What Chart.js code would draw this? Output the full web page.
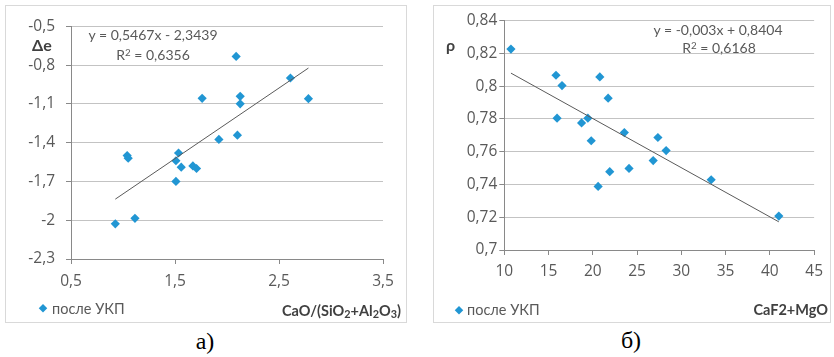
<!DOCTYPE html>
<html>
<head>
<meta charset="utf-8">
<script src="https://cdn.jsdelivr.net/npm/chart.js@4"></script>
<style>
  html, body { margin:0; padding:0; background:#fff; }
  body { width:834px; height:357px; position:relative; overflow:hidden; font-family: Lato, "Open Sans", sans-serif; }
  .panel { position:absolute; box-sizing:border-box; border:1px solid #d9d9d9; background:#fff; }
  .panel canvas { position:absolute; left:0; top:0; }
  .t { position:absolute; white-space:nowrap; color:#595959; line-height:1; }
  .eq { font-size:14px; transform:translate(-50%,-50%); }
  .ylab { font-weight:bold; font-size:16px; color:#404040; transform:translateY(-50%); }
  .xtitle { font-weight:bold; font-size:14.5px; color:#404040; transform:translate(-100%,-50%); }
  .leg { font-size:14.5px; transform:translateY(-50%); }
  .dia { position:absolute; width:5.5px; height:5.5px; background:#2196d3; transform:translate(-50%,-50%) rotate(45deg); }
  .cap { position:absolute; font-family:"Liberation Serif", "Times New Roman", serif; font-size:24px; color:#000; transform:translate(-50%,-50%); line-height:1; }
  sub { font-size:0.75em; vertical-align:-0.25em; line-height:0; }
  sup { font-size:0.7em; vertical-align:0.45em; line-height:0; }
</style>
</head>
<body>
<div class="panel" id="pA" style="left:5px;top:5px;width:402px;height:318px;"><canvas id="cA"></canvas></div>
<div class="panel" id="pB" style="left:433px;top:5px;width:398px;height:318px;"><canvas id="cB"></canvas></div>

<div class="t ylab" style="left:32px;top:45px;">Δe</div>
<div class="t eq" style="left:153px;top:35px;">y = 0,5467x - 2,3439</div>
<div class="t eq" style="left:153px;top:55px;">R<sup>2</sup> = 0,6356</div>
<div class="dia" style="left:43px;top:308px;"></div>
<div class="t leg" style="left:52px;top:309px;">после УКП</div>
<div class="t xtitle" style="left:401px;top:311px;">CaO/(SiO<sub>2</sub>+Al<sub>2</sub>O<sub>3</sub>)</div>
<div class="cap" style="left:205px;top:341px;">а)</div>

<div class="t ylab" style="left:446px;top:45px;">ρ</div>
<div class="t eq" style="left:718px;top:30px;">y = -0,003x + 0,8404</div>
<div class="t eq" style="left:719px;top:48px;">R<sup>2</sup> = 0,6168</div>
<div class="dia" style="left:459px;top:310px;"></div>
<div class="t leg" style="left:467px;top:310px;">после УКП</div>
<div class="t xtitle" style="left:828px;top:310px;">CaF2+MgO</div>
<div class="cap" style="left:631px;top:340px;">б)</div>

<script>
// ---- Chart а): Δe vs CaO/(SiO2+Al2O3)
const xA = [1.04, 1.05, 1.534, 1.509, 1.56, 1.672, 1.707, 1.509, 1.761, 1.922, 2.088, 2.127, 2.127, 2.10, 2.61, 2.783, 0.926, 1.115];
const yA = [-1.50, -1.52, -1.48, -1.54, -1.59, -1.58, -1.60, -1.70, -1.057, -1.375, -0.733, -1.042, -1.10, -1.342, -0.90, -1.06, -2.028, -1.985];
const trendAx = [0.926, 2.783];
const trendAy = [-1.837, -0.823];
const xTicksA = [0.5, 1.5, 2.5, 3.5];
const yTicksA = [-2.3, -2, -1.7, -1.4, -1.1, -0.8, -0.5];

// ---- Chart б): ρ vs CaF2+MgO
const xB = [10.75, 15.84, 16.52, 15.96, 18.73, 19.44, 19.82, 20.79, 21.73, 21.91, 23.56, 24.09, 26.82, 27.35, 28.28, 20.6, 33.37, 41.01];
const yB = [0.8227, 0.8067, 0.8004, 0.7805, 0.7776, 0.7805, 0.7667, 0.8057, 0.7927, 0.7478, 0.7717, 0.7498, 0.7546, 0.7687, 0.7607, 0.7388, 0.7429, 0.7207];
const trendBx = [10.75, 41.01];
const trendBy = [0.8080, 0.7172];
const xTicksB = [10, 15, 20, 25, 30, 35, 40, 45];
const yTicksB = [0.70, 0.72, 0.74, 0.76, 0.78, 0.80, 0.82, 0.84];

const fmt = v => String(+v.toFixed(3)).replace('.', ',');
const zip = (xs, ys) => xs.map((x, i) => ({x, y: ys[i]}));

function makeChart(id, xs, ys, tx, ty, xt, yt, geo) {
  const tickFont = {family: "'Open Sans', Lato, sans-serif", size: 15.5};
  return new Chart(document.getElementById(id), {
    type: 'scatter',
    data: {
      datasets: [
        {data: zip(xs, ys), pointStyle: 'rectRot', pointRadius: 4.6, pointHoverRadius: 4.6,
         backgroundColor: '#2196d3', borderWidth: 0, order: 1},
        {type: 'line', data: zip(tx, ty), borderColor: '#5a5a5a', borderWidth: 1,
         pointRadius: 0, fill: false, order: 0}
      ]
    },
    options: {
      responsive: true, maintainAspectRatio: false, animation: false,
      events: [],
      layout: {padding: {left: 0, right: geo.right, top: geo.top, bottom: 0}},
      plugins: {legend: {display: false}, tooltip: {enabled: false}},
      scales: {
        x: {
          type: 'linear', min: xt[0], max: xt[xt.length - 1],
          afterBuildTicks: s => { s.ticks = xt.map(v => ({value: v})); },
          afterFit: s => { s.height = geo.xh; },
          ticks: {callback: v => fmt(v), color: '#595959', font: tickFont, padding: geo.xpad, maxRotation: 0, autoSkip: false},
          grid: {drawOnChartArea: false, drawTicks: true, tickLength: 5, tickColor: '#898989'},
          border: {color: '#898989', width: 1}
        },
        y: {
          type: 'linear', min: yt[0], max: yt[yt.length - 1],
          afterBuildTicks: s => { s.ticks = yt.map(v => ({value: v})); },
          afterFit: s => { s.width = geo.yw; },
          ticks: {callback: v => fmt(v), color: '#595959', font: tickFont, padding: geo.ypad, autoSkip: false},
          grid: {color: '#c3c3c3', lineWidth: 1, drawTicks: true, tickLength: 5, tickColor: '#898989'},
          border: {color: '#898989', width: 1}
        }
      }
    }
  });
}

makeChart('cA', xA, yA, trendAx, trendAy, xTicksA, yTicksA,
  {right: 23, top: 14, xh: 63, yw: 65, xpad: 8, ypad: 11});
makeChart('cB', xB, yB, trendBx, trendBy, xTicksB, yTicksB,
  {right: 14, top: 14.7, xh: 72, yw: 70.3, xpad: 7, ypad: 2});
</script>
</body>
</html>
